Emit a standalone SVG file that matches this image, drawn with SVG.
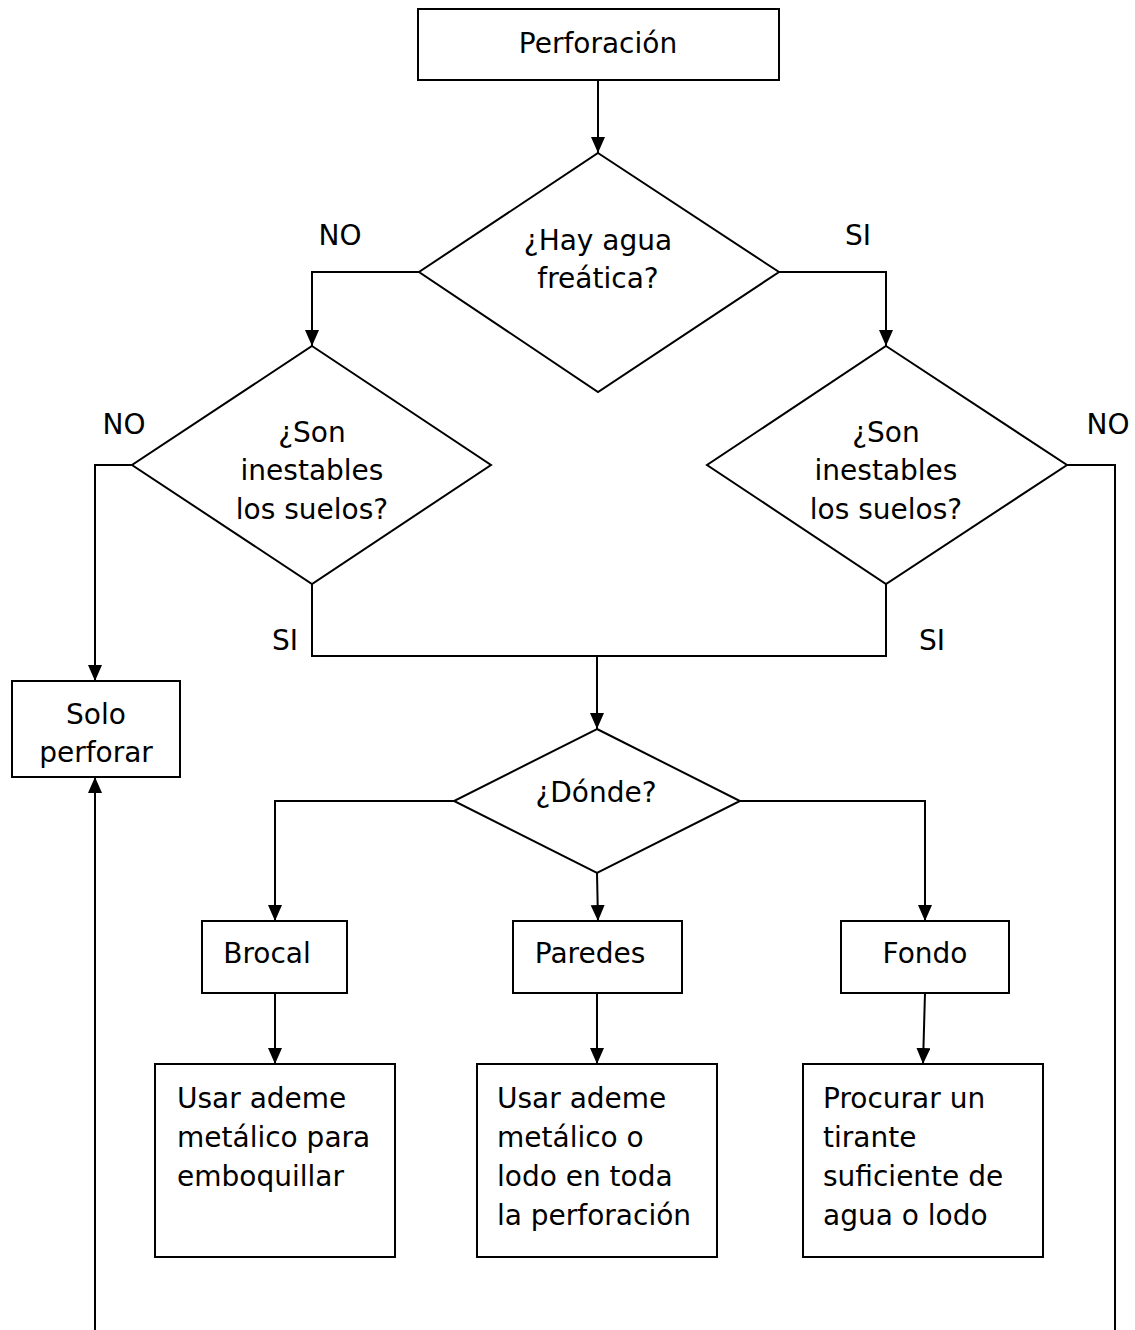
<svg xmlns="http://www.w3.org/2000/svg" width="1135" height="1330" viewBox="0 0 1135 1330">
<style>
.box{fill:#fff;stroke:#000;stroke-width:2}
.t{font-family:"DejaVu Sans",Verdana,sans-serif;font-size:28px;fill:#000}
.c{text-anchor:middle}
.ln{fill:none;stroke:#000;stroke-width:2}
</style>
<defs>
<marker id="ah" markerUnits="userSpaceOnUse" markerWidth="16" markerHeight="16" refX="16" refY="7" orient="auto">
<path d="M0,0 L16,7 L0,14 Z" fill="#000"/>
</marker>
</defs>
<rect width="1135" height="1330" fill="#fff"/>
<g id="connectors">
<path class="ln" d="M598,80 V153" marker-end="url(#ah)"/>
<path class="ln" d="M419,272 H312 V346" marker-end="url(#ah)"/>
<path class="ln" d="M779,272 H886 V346" marker-end="url(#ah)"/>
<path class="ln" d="M132,465 H95 V681" marker-end="url(#ah)"/>
<path class="ln" d="M1067,465 H1115 V1330"/>
<path class="ln" d="M95,1330 V777" marker-end="url(#ah)"/>
<path class="ln" d="M312,584 V656 H886 V584"/>
<path class="ln" d="M597,656 V729" marker-end="url(#ah)"/>
<path class="ln" d="M454,801 H275 V921" marker-end="url(#ah)"/>
<path class="ln" d="M740,801 H925 V921" marker-end="url(#ah)"/>
<path class="ln" d="M597,873 L598,921" marker-end="url(#ah)"/>
<path class="ln" d="M275,993 V1064" marker-end="url(#ah)"/>
<path class="ln" d="M597,993 V1064" marker-end="url(#ah)"/>
<path class="ln" d="M925,993 L923,1064" marker-end="url(#ah)"/>
</g>
<g id="labels">
<text class="t c" x="340" y="245">NO</text>
<text class="t c" x="858" y="245">SI</text>
<text class="t c" x="124" y="434">NO</text>
<text class="t c" x="1108" y="434">NO</text>
<text class="t c" x="285" y="650">SI</text>
<text class="t c" x="932" y="650">SI</text>
</g>
<g id="perforacion">
<rect class="box" x="418" y="9" width="361" height="71"/>
<text class="t c" x="598" y="53">Perforación</text>
</g>
<g id="hay-agua">
<polygon class="box" points="598,153 779,272 598,392 419,272"/>
<text class="t c" x="598" y="250">¿Hay agua</text>
<text class="t c" x="598" y="288">freática?</text>
</g>
<g id="suelos-izq">
<polygon class="box" points="312,346 491,465 312,584 132,465"/>
<text class="t c" x="312" y="442">¿Son</text>
<text class="t c" x="312" y="480">inestables</text>
<text class="t c" x="312" y="519">los suelos?</text>
</g>
<g id="suelos-der">
<polygon class="box" points="886,346 1067,465 886,584 707,465"/>
<text class="t c" x="886" y="442">¿Son</text>
<text class="t c" x="886" y="480">inestables</text>
<text class="t c" x="886" y="519">los suelos?</text>
</g>
<g id="solo-perforar">
<rect class="box" x="12" y="681" width="168" height="96"/>
<text class="t c" x="96" y="724">Solo</text>
<text class="t c" x="96" y="762">perforar</text>
</g>
<g id="donde">
<polygon class="box" points="597,729 740,801 597,873 454,801"/>
<text class="t c" x="596" y="802">¿Dónde?</text>
</g>
<g id="brocal">
<rect class="box" x="202" y="921" width="145" height="72"/>
<text class="t c" x="267" y="963">Brocal</text>
</g>
<g id="paredes">
<rect class="box" x="513" y="921" width="169" height="72"/>
<text class="t c" x="590" y="963">Paredes</text>
</g>
<g id="fondo">
<rect class="box" x="841" y="921" width="168" height="72"/>
<text class="t c" x="925" y="963">Fondo</text>
</g>
<g id="usar-brocal">
<rect class="box" x="155" y="1064" width="240" height="193"/>
<text class="t" x="177" y="1108">Usar ademe</text>
<text class="t" x="177" y="1147">metálico para</text>
<text class="t" x="177" y="1186">emboquillar</text>
</g>
<g id="usar-paredes">
<rect class="box" x="477" y="1064" width="240" height="193"/>
<text class="t" x="497" y="1108">Usar ademe</text>
<text class="t" x="497" y="1147">metálico o</text>
<text class="t" x="497" y="1186">lodo en toda</text>
<text class="t" x="497" y="1225">la perforación</text>
</g>
<g id="procurar">
<rect class="box" x="803" y="1064" width="240" height="193"/>
<text class="t" x="823" y="1108">Procurar un</text>
<text class="t" x="823" y="1147">tirante</text>
<text class="t" x="823" y="1186">suficiente de</text>
<text class="t" x="823" y="1225">agua o lodo</text>
</g>
</svg>
